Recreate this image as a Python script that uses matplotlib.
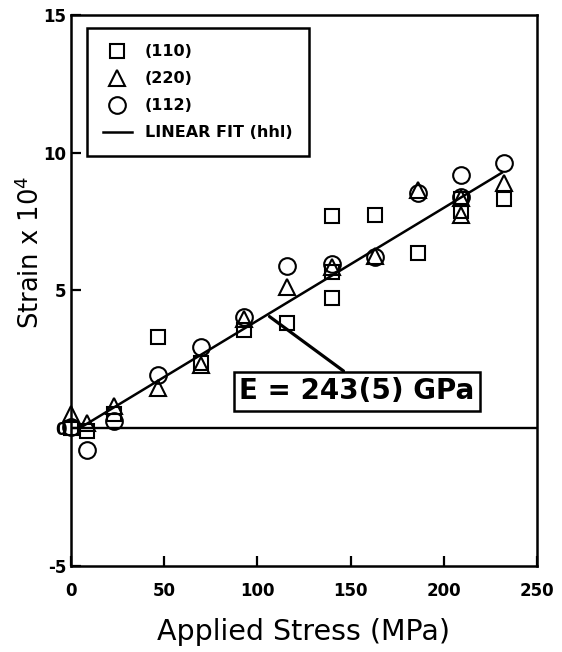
import matplotlib
matplotlib.use("Agg")
import matplotlib.pyplot as plt
import numpy as np

plt.rcParams['font.family'] = ['DejaVu Sans']
plt.rcParams['mathtext.default'] = 'regular'
plt.rcParams['axes.unicode_minus'] = False

# (110) reflection
sq_stress = [0, 9, 23, 47, 70, 93, 116, 140, 140, 140, 163, 186, 209, 209, 232]
sq_strain = [0.0, -0.1, 0.5, 3.32, 2.35, 3.56, 3.8, 7.7, 5.65, 4.72, 7.75, 6.35, 8.3, 7.9, 8.32]

# (220) reflection
tri_stress = [0, 9, 23, 47, 70, 93, 116, 140, 163, 186, 209, 209, 232]
tri_strain = [0.5, 0.2, 0.8, 1.44, 2.3, 3.95, 5.14, 5.85, 6.25, 8.65, 8.35, 7.75, 8.9]

# (112) reflection
circ_stress = [0, 9, 23, 47, 70, 93, 116, 140, 163, 186, 209, 209, 232]
circ_strain = [0.05, -0.8, 0.25, 1.93, 2.96, 4.05, 5.87, 5.95, 6.2, 8.55, 9.2, 8.4, 9.63]

# linear fit over the hhl data
fit_slope = 0.041
fit_intercept = -0.2
fit_range = [5, 231]

xticks = [0, 50, 100, 150, 200, 250]
yticks = [-5, 0, 5, 10, 15]

fig = plt.figure(figsize=(5.62, 6.52), dpi=100)
ax = fig.add_axes([0.1258, 0.1323, 0.8302, 0.8447])

mk = dict(linestyle='none', markerfacecolor='none', markeredgecolor='black',
          markeredgewidth=1.5, clip_on=False, zorder=3)
ax.plot(sq_stress, sq_strain, marker='s', markersize=10.5, label='(110)', **mk)
ax.plot(tri_stress, tri_strain, marker='^', markersize=12, label='(220)', **mk)
ax.plot(circ_stress, circ_strain, marker='o', markersize=12, label='(112)', **mk)

fx = np.array(fit_range)
ax.plot(fx, fit_intercept + fit_slope * fx, color='black', lw=1.8, label='LINEAR FIT (hhl)')

ax.axhline(0, color='black', lw=1.7, zorder=1)

ax.annotate('E = 243(5) GPa', xy=(106.5, 4.05), xytext=(153.4, 1.33),
            ha='center', va='center', fontsize=20, fontweight='bold',
            bbox=dict(boxstyle='square,pad=0.2', fc='white', ec='black', lw=1.8),
            arrowprops=dict(arrowstyle='-', lw=2.3, color='black',
                            relpos=(0.48, 1.0), shrinkA=0, shrinkB=0))

ax.set_xlim(0, 250)
ax.set_ylim(-5, 15)
ax.set_xticks(xticks)
ax.set_yticks(yticks)
ax.tick_params(direction='in', length=7, width=1.6, labelsize=12)
ax.tick_params(axis='x', pad=12)
ax.tick_params(axis='y', pad=3)
for lab in ax.get_xticklabels() + ax.get_yticklabels():
    lab.set_fontweight('bold')
for sp in ax.spines.values():
    sp.set_linewidth(1.8)

ax.set_xlabel('Applied Stress (MPa)', fontsize=20.5, labelpad=13)
ax.set_ylabel('Strain x 10$^4$', fontsize=18.5)
ax.yaxis.set_label_coords(-0.055, 0.57)

leg = ax.legend(loc='upper left', bbox_to_anchor=(0.0343, 0.9758), borderaxespad=0,
                fancybox=False, edgecolor='black', framealpha=1,
                prop={'weight': 'bold', 'size': 11.5}, handlelength=1.85,
                handletextpad=0.8, labelspacing=0.75, borderpad=1.0)
leg.get_frame().set_linewidth(1.8)

fig.savefig('out.png', dpi=100)
